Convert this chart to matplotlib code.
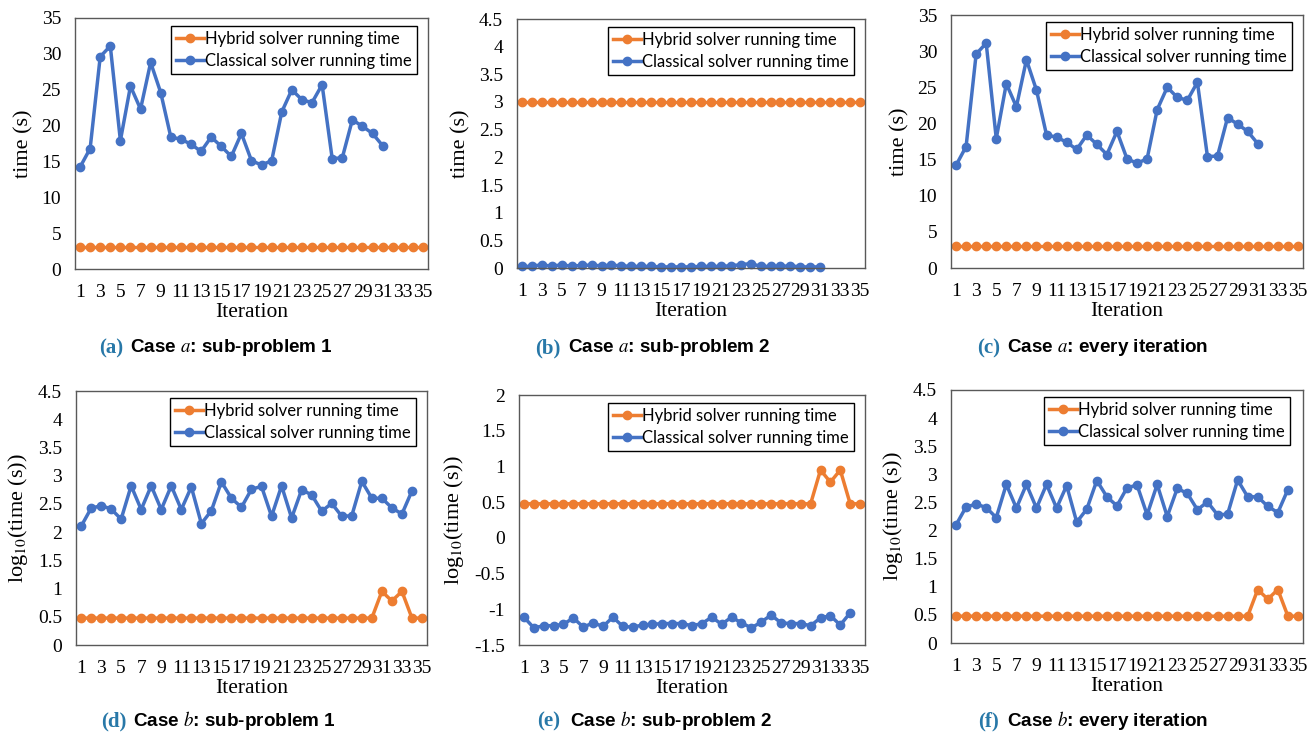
import matplotlib
matplotlib.use("Agg")
import matplotlib.pyplot as plt
from matplotlib.ticker import FuncFormatter, MultipleLocator

plt.rcParams['mathtext.fontset'] = 'stix'

iters_hybrid = list(range(1, 36))
hybrid_a = [3.0] * 35
classical_a1 = [14.2, 16.8, 29.6, 31.1, 17.9, 25.5, 22.3, 28.8, 24.6, 18.4,
                18.1, 17.4, 16.4, 18.4, 17.1, 15.7, 18.9, 15.1, 14.5, 15.1,
                21.9, 25.0, 23.6, 23.2, 25.7, 15.4, 15.5, 20.8, 19.9, 18.9, 17.2]
classical_a2 = [0.03, 0.03, 0.06, 0.03, 0.06, 0.03, 0.05, 0.05, 0.04, 0.05,
                0.04, 0.03, 0.03, 0.03, 0.02, 0.02, 0.02, 0.02, 0.03, 0.03,
                0.03, 0.04, 0.06, 0.08, 0.03, 0.03, 0.03, 0.04, 0.02, 0.02, 0.02]
classical_a_all = classical_a1

hybrid_b = [0.477] * 30 + [0.95, 0.78, 0.95, 0.477, 0.477]
classical_b1 = [2.10, 2.42, 2.47, 2.41, 2.23, 2.82, 2.40, 2.82, 2.40, 2.82,
                2.40, 2.80, 2.15, 2.38, 2.89, 2.60, 2.44, 2.76, 2.81, 2.28,
                2.82, 2.25, 2.75, 2.66, 2.37, 2.51, 2.28, 2.29, 2.90, 2.60,
                2.60, 2.43, 2.32, 2.73]
classical_b2 = [-1.11, -1.26, -1.23, -1.23, -1.21, -1.12, -1.25, -1.19, -1.24, -1.11,
                -1.24, -1.25, -1.22, -1.21, -1.20, -1.20, -1.20, -1.23, -1.20, -1.11,
                -1.21, -1.11, -1.19, -1.26, -1.18, -1.08, -1.19, -1.20, -1.20, -1.23,
                -1.12, -1.09, -1.22, -1.05]
classical_b_all = classical_b1

x_ticks = list(range(1, 36, 2))

panels = [
    dict(box=(75, 18, 428, 269), hyb=hybrid_a, cls=classical_a1, ylim=(0, 35), step=5,
         ylabel='time (s)', letter='(a)', cap='Case $a$: sub-problem 1', capx=(123, 130), capy=348,
         leg=(417, 26)),
    dict(box=(517, 19, 865, 268), hyb=hybrid_a, cls=classical_a2, ylim=(0, 4.5), step=0.5,
         ylabel='time (s)', letter='(b)', cap='Case $a$: sub-problem 2', capx=(561, 568), capy=348,
         leg=(854, 27)),
    dict(box=(951, 15, 1303, 268), hyb=hybrid_a, cls=classical_a_all, ylim=(0, 35), step=5,
         ylabel='time (s)', letter='(c)', cap='Case $a$: every iteration', capx=(1000, 1007), capy=348,
         leg=(1292, 22)),
    dict(box=(76, 391, 427, 645), hyb=hybrid_b, cls=classical_b1, ylim=(0, 4.5), step=0.5,
         ylabel='log$_{10}$(time (s))', letter='(d)', cap='Case $b$: sub-problem 1', capx=(126, 133), capy=721,
         leg=(416, 398)),
    dict(box=(519, 395, 865, 645), hyb=hybrid_b, cls=classical_b2, ylim=(-1.5, 2), step=0.5,
         ylabel='log$_{10}$(time (s))', letter='(e)', cap='Case $b$: sub-problem 2', capx=(560, 570), capy=721,
         leg=(854, 403)),
    dict(box=(951, 390, 1303, 643), hyb=hybrid_b, cls=classical_b_all, ylim=(0, 4.5), step=0.5,
         ylabel='log$_{10}$(time (s))', letter='(f)', cap='Case $b$: every iteration', capx=(999, 1007), capy=721,
         leg=(1290, 397)),
]

W, H = 1309, 733
fig = plt.figure(figsize=(W / 100, H / 100), dpi=100)

orange = '#ED7D31'
blue = '#4472C4'
fmt = FuncFormatter(lambda v, p: ('%g' % v).replace('\u2212', '-'))

for p in panels:
    l, t, r, b = p['box']
    ax = fig.add_axes([l / W, 1 - b / H, (r - l) / W, (b - t) / H])
    ax.plot(iters_hybrid, p['hyb'], color=orange, lw=2.5, marker='o', ms=6,
            label='Hybrid solver running time', clip_on=False)
    ax.plot(list(range(1, len(p['cls']) + 1)), p['cls'], color=blue, lw=2.5, marker='o', ms=6,
            label='Classical solver running time', clip_on=False)
    ax.set_xlim(0.5, 35.5)
    ax.set_ylim(*p['ylim'])
    ax.yaxis.set_major_locator(MultipleLocator(p['step']))
    ax.yaxis.set_major_formatter(fmt)
    ax.set_xticks(x_ticks)
    ax.set_xticklabels([str(v) for v in x_ticks])
    ax.tick_params(axis='x', length=0, labelsize=14, pad=11)
    ax.tick_params(axis='y', length=0, labelsize=14, pad=10)
    for lab in ax.get_xticklabels() + ax.get_yticklabels():
        lab.set_fontfamily('Liberation Serif')
    for s in ax.spines.values():
        s.set_color('#595959')
        s.set_linewidth(1.0)
    ax.set_xlabel('Iteration', fontsize=15.5, family='Liberation Serif', labelpad=1)
    ax.set_ylabel(p['ylabel'], fontsize=16, family='Liberation Serif', labelpad=6)
    lx, ly = p['leg']
    leg = ax.legend(loc='upper right', prop={'family': 'Lato', 'size': 12},
                    frameon=True, fancybox=False, edgecolor='black', framealpha=1,
                    handlelength=1.7, handletextpad=0.05, borderpad=0.3, labelspacing=0.35,
                    borderaxespad=0, bbox_to_anchor=(lx / W, 1 - ly / H),
                    bbox_transform=fig.transFigure)
    leg.get_frame().set_linewidth(1.0)
    fig.text(p['capx'][0] / W, 1 - p['capy'] / H, p['letter'], ha='right', va='center',
             color='#2878A8', fontsize=15, family='Liberation Serif', weight='bold')
    fig.text(p['capx'][1] / W, 1 - p['capy'] / H, p['cap'], ha='left', va='center',
             color='black', fontsize=13.6, family='Liberation Sans', weight='bold')

fig.savefig('out.png', dpi=100)
